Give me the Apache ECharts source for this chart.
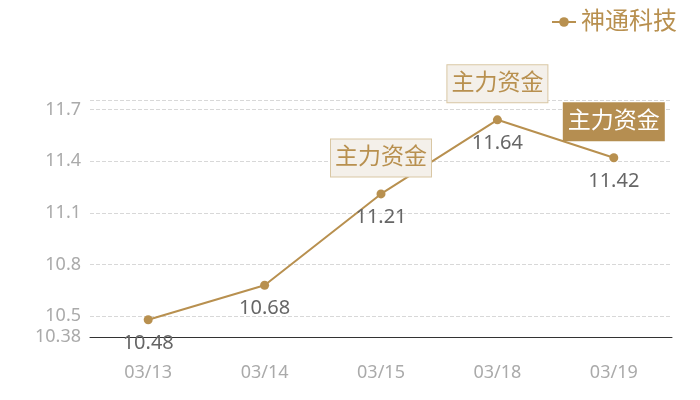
<!DOCTYPE html>
<html>
<head>
<meta charset="utf-8">
<script src="https://cdn.jsdelivr.net/npm/echarts@6/dist/echarts.min.js"></script>
<style>
  html, body { margin: 0; padding: 0; background: #fff; }
  #chart { width: 700px; height: 400px; }
</style>
</head>
<body>
<div id="chart"></div>
<script>
const dates = ['03/13', '03/14', '03/15', '03/18', '03/19']
const prices = [10.48, 10.68, 11.21, 11.64, 11.42]
const seriesName = '神通科技'
// days flagged with the 主力资金 badge; last one is highlighted
const flowDays = ['03/15', '03/18', '03/19']
const flowText = '主力资金'

const gold = '#b8904f'
const font = '"Noto Sans", "Noto Sans CJK SC", sans-serif'

const badge = (highlight) => ({
    show: true,
    position: 'inside',
    offset: [0, -36],
    formatter: flowText,
    fontFamily: font,
    fontSize: 23,
    lineHeight: 23,
    padding: [7, 4],
    color: highlight ? '#fff' : gold,
    backgroundColor: highlight ? '#b58e51' : '#f4f0ea',
    borderColor: highlight ? '#b58e51' : '#d9c7a4',
    borderWidth: 1
})

let markData = flowDays.map((d, i) => {
    let idx = dates.indexOf(d)
    return {
        coord: [d, prices[idx]],
        symbol: 'circle',
        symbolSize: 0,
        label: badge(i === flowDays.length - 1)
    }
})

let chart = echarts.init(document.getElementById('chart'))
chart.setOption({
    animation: false,
    legend: {
        right: 18,
        top: 5,
        itemWidth: 24,
        itemHeight: 12,
        itemGap: 6,
        textStyle: { color: gold, fontSize: 24, fontFamily: font },
        data: [seriesName]
    },
    grid: { left: 90, right: 28, top: 100, bottom: 63 },
    xAxis: {
        type: 'category',
        data: dates,
        axisLine: { lineStyle: { color: '#333' } },
        axisTick: { show: false },
        axisLabel: { color: '#aaa', fontSize: 18, margin: 27, fontFamily: font }
    },
    yAxis: {
        type: 'value',
        min: 10.38,
        max: 11.755,
        axisLine: { show: false },
        axisTick: { show: false },
        axisLabel: { color: '#aaa', fontSize: 18, margin: 9, fontFamily: font },
        splitLine: { lineStyle: { color: '#d8d8d8', type: 'dashed' } }
    },
    series: [
        {
            name: seriesName,
            type: 'line',
            data: prices,
            symbol: 'circle',
            symbolSize: 9,
            itemStyle: { color: gold },
            lineStyle: { color: gold, width: 2 },
            label: {
                show: true,
                position: 'bottom',
                distance: 9,
                color: '#666',
                fontSize: 20,
                fontFamily: font
            },
            markPoint: {
                silent: true,
                data: markData
            }
        }
    ]
})
</script>
</body>
</html>
